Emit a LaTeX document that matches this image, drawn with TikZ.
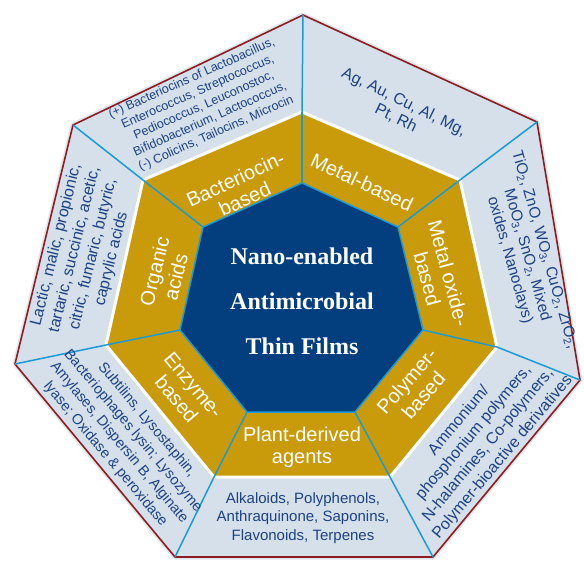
\documentclass[tikz,border=0pt]{standalone}
\usepackage{fontspec}
\setmainfont{Liberation Sans}
\newfontfamily\titlefont{Liberation Serif}
\definecolor{ringblue}{HTML}{D5E0EB}
\definecolor{rimred}{HTML}{8C1D22}
\definecolor{spokeblue}{HTML}{1B9AD5}
\definecolor{goldring}{HTML}{C99A0A}
\definecolor{navy}{HTML}{033F7F}
\definecolor{listblue}{HTML}{1D4282}
\tikzset{
	spoke/.style={spokeblue, line width=1.5pt},
	listtext/.style={text=listblue, align=center, inner sep=0pt},
	goldtag/.style={text=white, align=center, inner sep=0pt, font=\fontsize{20}{22}\selectfont},
	titletext/.style={text=white, align=center, inner sep=0pt, font=\titlefont\bfseries\fontsize{24}{45}\selectfont},
}

\begin{document}
\begin{tikzpicture}[x=1pt, y=-1pt]
	\useasboundingbox (0, 0) rectangle (584, 560);
	% corners: outer, gold, inner
	\coordinate (o1) at (303, 15);  \coordinate (o2) at (73, 125);  \coordinate (o3) at (15, 364);
	\coordinate (o4) at (175, 557); \coordinate (o5) at (433, 557); \coordinate (o6) at (580, 380);
	\coordinate (o7) at (537, 122);
	\coordinate (g1) at (302, 112); \coordinate (g2) at (143, 180); \coordinate (g3) at (106, 345);
	\coordinate (g4) at (214, 477); \coordinate (g5) at (390, 477); \coordinate (g6) at (497, 347);
	\coordinate (g7) at (460, 180);
	\coordinate (n1) at (302, 183); \coordinate (n2) at (203, 227); \coordinate (n3) at (180, 330);
	\coordinate (n4) at (247, 412); \coordinate (n5) at (355, 412); \coordinate (n6) at (423, 330);
	\coordinate (n7) at (398, 227);
	% outer ring
	\draw[ringblue!80!gray, line width=5pt, opacity=0.5, line join=round](o1)--(o2)--(o3)--(o4)--(o5)--(o6)--(o7)--cycle;
	\draw[fill=ringblue, draw=rimred, line width=1.6pt, line join=round](o1)--(o2)--(o3)--(o4)--(o5)--(o6)--(o7)--cycle;
	% gold ring
	\draw[fill=goldring, draw=white, line width=3pt, line join=round](g1)--(g2)--(g3)--(g4)--(g5)--(g6)--(g7)--cycle;
	% centre
	\draw[fill=navy, draw=spokeblue, line width=1.5pt, line join=round](n1)--(n2)--(n3)--(n4)--(n5)--(n6)--(n7)--cycle;
	% spokes
	\foreach \i in {1,...,7}{
		\draw[spoke](n\i)--(g\i);
		\draw[spoke](g\i)--(o\i);
	}
	\node[titletext] (title) at (302, 301) {Nano-enabled\\Antimicrobial\\Thin Films};
	% gold labels
	\node[goldtag, rotate=25] (bacteriocintag) at (240, 189) {Bacteriocin-\\based};
	\node[goldtag, rotate=-25] (metaltag) at (362, 182) {Metal-based};
	\node[goldtag, rotate=-75] (oxidetag) at (438, 276) {Metal oxide-\\based};
	\node[goldtag, rotate=49] (polymertag) at (415, 388) {Polymer-\\based};
	\node[goldtag] (planttag) at (302, 447) {Plant-derived\\agents};
	\node[goldtag, rotate=-50] (enzymetag) at (185, 392) {Enzyme-\\based};
	\node[goldtag, rotate=76] (organictag) at (165, 274) {Organic\\acids};
	% outer lists
	\node[listtext, rotate=24, font=\fontsize{12.5}{15}\selectfont] (bacteriocinlist) at (204, 106)
		{(+) Bacteriocins of Lactobacillus,\\Enterococcus, Streptococcus,\\Pediococcus, Leuconostoc,\\Bifidobacterium, Lactococcus,\\(-) Colicins, Tailocins, Microcin};
	\node[listtext, rotate=-26, font=\fontsize{16}{18}\selectfont] (metallist) at (400, 110)
		{Ag, Au, Cu, Al, Mg,\\Pt, Rh};
	\node[listtext, rotate=-74, font=\fontsize{15.5}{18}\selectfont] (oxidelist) at (527, 255)
		{TiO\textsubscript{2}, ZnO, WO\textsubscript{3}, CuO\textsubscript{2}, ZrO\textsubscript{2},\\MoO\textsubscript{3}, SnO\textsubscript{2}, Mixed\\oxides, Nanoclays)};
	\node[listtext, rotate=50, font=\fontsize{16}{19}\selectfont] (polymerlist) at (481, 439)
		{Ammonium/\\phosphonium polymers,\\N-halamines, Co-polymers,\\Polymer-bioactive derivatives};
	\node[listtext, font=\fontsize{15}{18.5}\selectfont] (plantlist) at (303, 518)
		{Alkaloids, Polyphenols,\\Anthraquinone, Saponins,\\Flavonoids, Terpenes};
	\node[listtext, rotate=-50, font=\fontsize{14.5}{18}\selectfont] (enzymelist) at (126, 437)
		{Subtilins, Lysostaphin,\\Bacteriophages lysin; Lysozyme\\Amylases, Dispersin B, Alginate\\lyase; Oxidase \& peroxidase};
	\node[listtext, rotate=76, font=\fontsize{16}{19}\selectfont] (organiclist) at (84, 252)
		{Lactic, malic, propionic,\\tartaric, succinic, acetic,\\citric, fumaric, butyric,\\caprylic acids};
\end{tikzpicture}
\end{document}
